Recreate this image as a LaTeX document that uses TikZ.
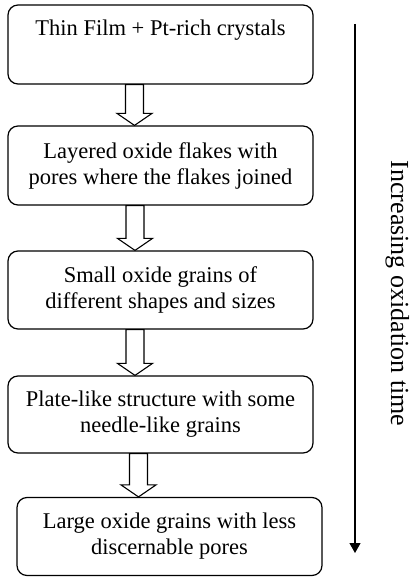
\documentclass[tikz,border=0pt]{standalone}
\usepackage{fontspec}
\setmainfont{Liberation Serif}
\usetikzlibrary{calc,arrows.meta}
\tikzset{
  stagebox/.style={draw=black, line width=1.2pt, rounded corners=10pt, fill=white,
    minimum width=305pt, inner sep=0pt, align=center,
    font=\fontsize{22.5}{26}\selectfont},
  blockarrow/.style={draw=black, line width=1.1pt, fill=white, line join=miter},
  timeline/.style={draw=black, line width=1.2pt, -{Triangle[length=10pt,width=11pt]}},
  timelabel/.style={font=\fontsize{26}{30}\selectfont, rotate=-90, anchor=base, inner sep=0pt}
}
\newcommand{\blockarr}[3]{%
  \draw[blockarrow] let \p1=(#1.south), \p2=(#2.north) in
   (#3pt-9pt,\y1) -- (#3pt-9pt,\y2+12pt) -- (#3pt-17.5pt,\y2+12pt) -- (#3pt,\y2)
   -- (#3pt+17.5pt,\y2+12pt) -- (#3pt+9pt,\y2+12pt) -- (#3pt+9pt,\y1) -- cycle;}
\begin{document}
\begin{tikzpicture}[x=1pt,y=-1pt]
\useasboundingbox (0,0) rectangle (410,577);
\node[stagebox, minimum height=79pt] (b1) at (160.5,44.5) {Thin Film + Pt-rich crystals\\\strut};
\node[stagebox, minimum height=79pt] (b2) at (160.5,165.5) {Layered oxide flakes with\\pores where the flakes joined};
\node[stagebox, minimum height=78pt] (b3) at (160.5,290) {Small oxide grains of\\different shapes and sizes};
\node[stagebox, minimum height=77pt] (b4) at (160.5,414.5) {Plate-like structure with some\\needle-like grains};
\node[stagebox, minimum height=78pt] (b5) at (169.5,536.5) {Large oxide grains with less\\discernable pores};
\blockarr{b1}{b2}{134.5}
\blockarr{b2}{b3}{135}
\blockarr{b3}{b4}{135}
\blockarr{b4}{b5}{138.5}
\coordinate (ts) at (355,24);
\coordinate (te) at (355,553);
\draw[timeline] (ts) -- (te);
\node[timelabel] (lbl) at (391,293.5) {Increasing oxidation time};
\end{tikzpicture}
\end{document}
